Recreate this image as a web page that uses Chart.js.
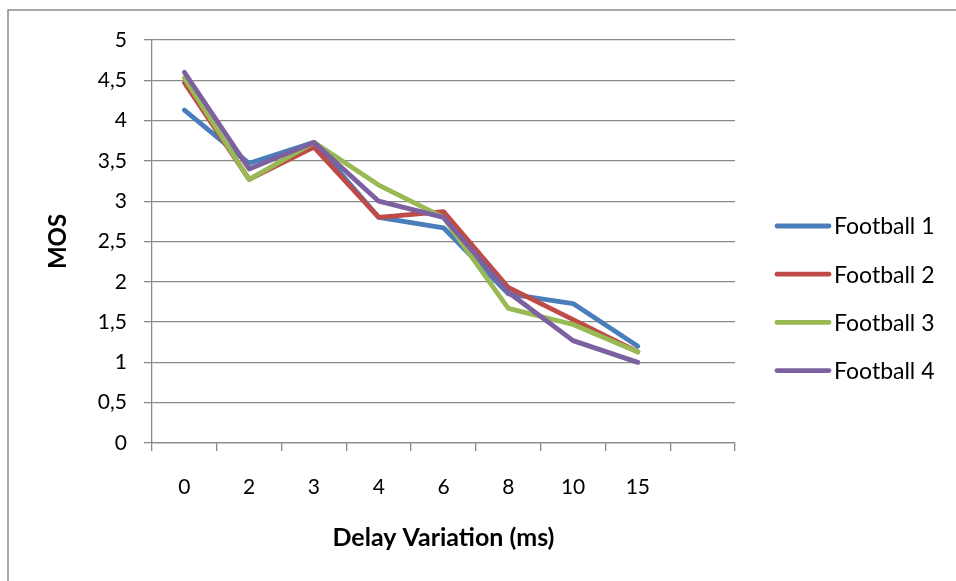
<!DOCTYPE html>
<html>
<head>
<meta charset="utf-8">
<title>MOS vs Delay Variation</title>
<script src="https://cdn.jsdelivr.net/npm/chart.js@4.4.1/dist/chart.umd.min.js"></script>
<style>
  html, body { margin: 0; padding: 0; background: #fff; overflow: hidden; }
  #wrap { position: relative; width: 956px; height: 581px; }
</style>
</head>
<body>
<div id="wrap"><canvas id="mosChart" width="956" height="581"></canvas></div>
<script>
// delay variation categories (ms); last slot is left empty
const delays = ['0', '2', '3', '4', '6', '8', '10', '15', ''];

const football1 = [4.13, 3.47, 3.73, 2.80, 2.67, 1.85, 1.73, 1.20, null];
const football2 = [4.47, 3.27, 3.67, 2.80, 2.87, 1.93, 1.53, 1.13, null];
const football3 = [4.53, 3.27, 3.73, 3.20, 2.80, 1.67, 1.47, 1.13, null];
const football4 = [4.60, 3.40, 3.73, 3.00, 2.80, 1.87, 1.27, 1.00, null];

const seriesNames = ['Football 1', 'Football 2', 'Football 3', 'Football 4'];
const seriesColors = ['#4A7EBB', '#BE4B48', '#98B954', '#7D60A0'];

const FONT = 'Lato, "Open Sans", sans-serif';
const GRID = '#898989';

const datasets = [football1, football2, football3, football4].map((values, i) => ({
  label: seriesNames[i],
  data: values,
  borderColor: seriesColors[i],
  backgroundColor: seriesColors[i],
  borderWidth: 4.8,
  borderJoinStyle: 'round',
  borderCapStyle: 'round',
  pointRadius: 0,
  tension: 0,
  order: 3 - i   // later series on top
}));

// frame around the whole chart plus white background
const frame = {
  id: 'frame',
  beforeDraw(chart) {
    const ctx = chart.ctx;
    ctx.save();
    ctx.fillStyle = '#fff';
    ctx.fillRect(0, 0, chart.width, chart.height);
    ctx.strokeStyle = '#8c8c8c';
    ctx.lineWidth = 1.5;
    ctx.strokeRect(8, 10, chart.width + 20, chart.height + 20);
    ctx.restore();
  }
};

// legend on the right: line sample + name
const sideLegend = {
  id: 'sideLegend',
  afterDraw(chart) {
    const ctx = chart.ctx;
    const left = chart.chartArea.right + 42;
    ctx.save();
    ctx.font = '23px ' + FONT;
    ctx.textBaseline = 'middle';
    ctx.lineCap = 'round';
    chart.data.datasets.forEach((ds, i) => {
      const y = 226 + i * 48.2;
      ctx.strokeStyle = ds.borderColor;
      ctx.lineWidth = 4.8;
      ctx.beginPath();
      ctx.moveTo(left, y);
      ctx.lineTo(left + 52, y);
      ctx.stroke();
      ctx.fillStyle = '#000';
      ctx.fillText(ds.label, left + 57, y + 1);
    });
    ctx.restore();
  }
};

new Chart(document.getElementById('mosChart'), {
  type: 'line',
  data: { labels: delays, datasets: datasets },
  options: {
    responsive: false,
    animation: false,
    layout: { padding: { top: 40, right: 221, bottom: 0, left: 0 } },
    plugins: {
      legend: { display: false },
      tooltip: { enabled: false }
    },
    scales: {
      x: {
        type: 'category',
        offset: true,
        afterFit(scale) { scale.height = 138; },
        grid: {
          offset: true,
          drawOnChartArea: false,
          drawTicks: true,
          tickLength: 8,
          color: GRID,
          lineWidth: 1.3
        },
        border: { color: GRID, width: 1.3 },
        ticks: {
          color: '#000',
          padding: 24,
          maxRotation: 0,
          autoSkip: false,
          font: { family: FONT, size: 21 }
        },
        title: {
          display: true,
          text: 'Delay Variation (ms)',
          color: '#000',
          font: { family: FONT, size: 25, weight: 'bold' },
          padding: { top: 0, bottom: 28 }
        }
      },
      y: {
        min: 0,
        max: 5,
        afterFit(scale) { scale.width = 152; },
        grid: {
          color: GRID,
          lineWidth: 1.3,
          drawTicks: true,
          tickLength: 8
        },
        border: { color: GRID, width: 1.3 },
        ticks: {
          stepSize: 0.5,
          color: '#000',
          padding: 17,
          font: { family: FONT, size: 21 },
          callback: v => String(v).replace('.', ',')
        },
        title: {
          display: true,
          text: 'MOS',
          color: '#000',
          font: { family: FONT, size: 24, weight: 'bold' },
          padding: { top: 44, bottom: 0 }
        }
      }
    }
  },
  plugins: [frame, sideLegend]
});
</script>
</body>
</html>
